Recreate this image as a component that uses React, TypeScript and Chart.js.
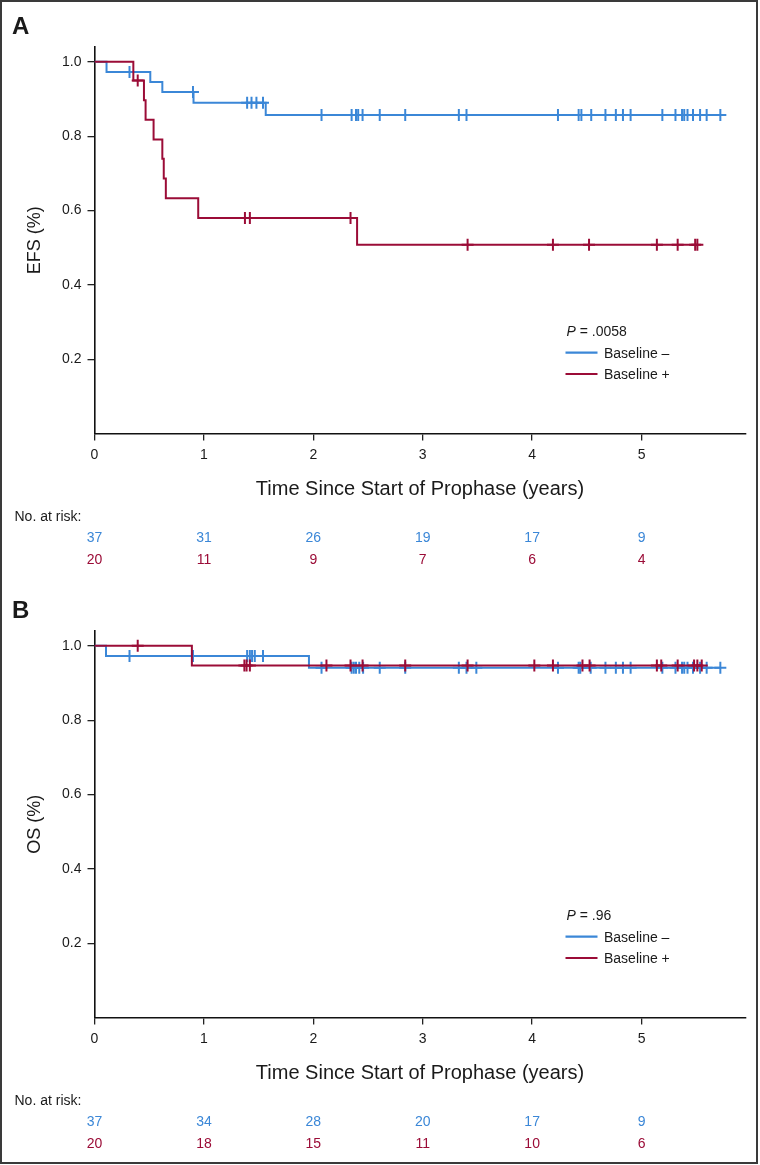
import React, { useEffect, useRef } from "react";
import { Chart, registerables } from "chart.js";

Chart.register(...registerables);

const FONT = "'Liberation Sans', Arial, Helvetica, sans-serif";
const BLUE = "#3b87d7";
const RED = "#9b0c37";
const INK = "#1a1a1a";

// ---------- shared axis data ----------
const xTickValues = [0, 1, 2, 3, 4, 5];
const yTickValues = [0.2, 0.4, 0.6, 0.8, 1.0];
const riskTimes = [0, 1, 2, 3, 4, 5];
const xTitle = "Time Since Start of Prophase (years)";
const seriesLabels = ["Baseline –", "Baseline +"];

// ---------- Panel A: EFS ----------
const efsNegTimes = [0, 0.11, 0.51, 0.62, 0.905, 1.565, 5.72];
const efsNegSurv = [1, 0.973, 0.946, 0.919, 0.89, 0.857, 0.857];
const efsNegCensor = [
  0.32, 0.9, 1.395, 1.435, 1.48, 1.54, 2.075, 2.35, 2.39, 2.41, 2.45, 2.607, 2.84,
  3.33, 3.4, 4.236, 4.425, 4.45, 4.54, 4.67, 4.765, 4.83, 4.9, 5.19, 5.31, 5.37,
  5.39, 5.42, 5.47, 5.535, 5.595, 5.72,
];
const efsPosTimes = [0, 0.355, 0.452, 0.467, 0.54, 0.62, 0.633, 0.652, 0.948, 2.4, 5.51];
const efsPosSurv = [1, 0.95, 0.897, 0.844, 0.791, 0.739, 0.686, 0.633, 0.58, 0.508, 0.508];
const efsPosCensor = [0.395, 1.375, 1.42, 2.34, 3.41, 4.19, 4.52, 5.14, 5.33, 5.49, 5.51];
const efsRiskNeg = [37, 31, 26, 19, 17, 9];
const efsRiskPos = [20, 11, 9, 7, 6, 4];
const efsP = ".0058";
const efsYTitle = "EFS (%)";

// ---------- Panel B: OS ----------
const osNegTimes = [0, 0.105, 1.96, 5.72];
const osNegSurv = [1, 0.973, 0.941, 0.941];
const osNegCensor = [
  0.32, 0.9, 1.395, 1.42, 1.44, 1.465, 1.54, 2.075, 2.35, 2.37, 2.39, 2.42, 2.455,
  2.607, 2.84, 3.33, 3.4, 3.49, 4.236, 4.425, 4.44, 4.535, 4.67, 4.765, 4.83, 4.9,
  5.19, 5.31, 5.37, 5.39, 5.42, 5.47, 5.535, 5.595, 5.72,
];
const osPosTimes = [0, 0.89, 5.55];
const osPosSurv = [1, 0.947, 0.947];
const osPosCensor = [
  0.395, 1.37, 1.39, 1.42, 2.12, 2.34, 2.45, 2.84, 3.41, 4.02, 4.19, 4.46, 4.525,
  5.14, 5.18, 5.33, 5.48, 5.51, 5.55,
];
const osRiskNeg = [37, 34, 28, 20, 17, 9];
const osRiskPos = [20, 18, 15, 11, 10, 6];
const osP = ".96";
const osYTitle = "OS (%)";

// ---------- layout (pixels inside each panel canvas) ----------
const L = {
  areaLeft: 94.5,
  areaTop: 47,
  areaBottom: 433.5,
  padRight: 14.5,
  letterX: 12,
  letterY: 34,
  yTitleX: 39.5,
  xTitleY: 495,
  riskLabelX: 14.5,
  riskLabelY: 521,
  riskRow1Y: 542,
  riskRow2Y: 563.5,
  legX: 565.5,
  legLineLen: 32,
  legTextX: 604,
  legPY: 336,
  legRow1Y: 352.7,
  legRow2Y: 374,
};

function stepValue(times: number[], surv: number[], t: number) {
  let v = surv[0];
  for (let i = 0; i < times.length; i++) {
    if (times[i] <= t) v = surv[i];
  }
  return v;
}

const decorPlugin = {
  id: "kmDecor",
  afterDraw(chart: any, _args: any, opts: any) {
    const ctx = chart.ctx as CanvasRenderingContext2D;
    const { left, right, top, bottom } = chart.chartArea;
    const xs = chart.scales.x;
    ctx.save();
    ctx.fillStyle = INK;
    ctx.textBaseline = "alphabetic";

    // panel letter
    ctx.font = `bold 24px ${FONT}`;
    ctx.textAlign = "left";
    ctx.fillText(opts.letter, L.letterX, L.letterY);

    // y title
    ctx.save();
    ctx.translate(L.yTitleX, (top + bottom) / 2);
    ctx.rotate(-Math.PI / 2);
    ctx.font = `18px ${FONT}`;
    ctx.textAlign = "center";
    ctx.fillText(opts.yTitle, 0, 0);
    ctx.restore();

    // x title
    ctx.font = `20px ${FONT}`;
    ctx.textAlign = "center";
    ctx.fillText(xTitle, (left + right) / 2, L.xTitleY);

    // number at risk
    ctx.font = `14px ${FONT}`;
    ctx.textAlign = "left";
    ctx.fillText("No. at risk:", L.riskLabelX, L.riskLabelY);
    ctx.textAlign = "center";
    riskTimes.forEach((t, i) => {
      const px = xs.getPixelForValue(t);
      ctx.fillStyle = BLUE;
      ctx.fillText(String(opts.riskNeg[i]), px, L.riskRow1Y);
      ctx.fillStyle = RED;
      ctx.fillText(String(opts.riskPos[i]), px, L.riskRow2Y);
    });

    // legend
    ctx.fillStyle = INK;
    ctx.textAlign = "left";
    ctx.font = `italic 14px ${FONT}`;
    ctx.fillText("P", L.legX + 1, L.legPY);
    const pw = ctx.measureText("P").width;
    ctx.font = `14px ${FONT}`;
    ctx.fillText(" = " + opts.p, L.legX + 1 + pw, L.legPY);

    const rows = [
      { y: L.legRow1Y, c: BLUE, t: seriesLabels[0] },
      { y: L.legRow2Y, c: RED, t: seriesLabels[1] },
    ];
    rows.forEach((r) => {
      ctx.strokeStyle = r.c;
      ctx.lineWidth = 2.2;
      ctx.beginPath();
      ctx.moveTo(L.legX, r.y);
      ctx.lineTo(L.legX + L.legLineLen, r.y);
      ctx.stroke();
      ctx.fillStyle = INK;
      ctx.fillText(r.t, L.legTextX, r.y + 5);
    });
    ctx.restore();
  },
};

function makeConfig(
  negT: number[], negS: number[], negC: number[],
  posT: number[], posS: number[], posC: number[],
  canvasH: number, decor: any
): any {
  const line = (t: number[], s: number[], color: string) => ({
    data: t.map((x, i) => ({ x, y: s[i] })),
    showLine: true,
    stepped: "before",
    borderColor: color,
    backgroundColor: color,
    borderWidth: 2,
    pointRadius: 0,
    fill: false,
  });
  const cens = (c: number[], t: number[], s: number[], color: string) => ({
    data: c.map((x) => ({ x, y: stepValue(t, s, x) })),
    showLine: false,
    pointStyle: "cross",
    pointRadius: 6,
    pointBorderWidth: 2,
    borderColor: color,
    backgroundColor: color,
  });
  return {
    type: "scatter",
    data: {
      datasets: [
        line(posT, posS, RED),
        cens(posC, posT, posS, RED),
        line(negT, negS, BLUE),
        cens(negC, negT, negS, BLUE),
      ],
    },
    options: {
      responsive: false,
      animation: false,
      events: [],
      layout: { padding: { top: L.areaTop, right: L.padRight, left: 0, bottom: 0 } },
      plugins: {
        legend: { display: false },
        tooltip: { enabled: false },
        kmDecor: decor,
      },
      scales: {
        x: {
          type: "linear",
          min: 0,
          max: 5.95,
          afterBuildTicks: (s: any) => {
            s.ticks = xTickValues.map((v) => ({ value: v }));
          },
          afterFit: (s: any) => {
            s.height = canvasH - L.areaBottom;
          },
          ticks: {
            color: INK,
            font: { size: 14, family: FONT },
            padding: 6,
            maxRotation: 0,
            callback: (v: number) => String(v),
          },
          grid: {
            display: true,
            drawOnChartArea: false,
            drawTicks: true,
            tickLength: 7,
            color: "#222",
            lineWidth: 1.3,
          },
          border: { display: true, color: "#111", width: 1.6 },
        },
        y: {
          type: "linear",
          min: 0,
          max: 1.04,
          afterBuildTicks: (s: any) => {
            s.ticks = yTickValues.map((v) => ({ value: v }));
          },
          afterFit: (s: any) => {
            s.width = L.areaLeft;
          },
          ticks: {
            color: INK,
            font: { size: 14, family: FONT },
            padding: 6,
            callback: (v: number) => v.toFixed(1),
          },
          grid: {
            display: true,
            drawOnChartArea: false,
            drawTicks: true,
            tickLength: 7,
            color: "#222",
            lineWidth: 1.3,
          },
          border: { display: true, color: "#111", width: 1.6 },
        },
      },
    },
    plugins: [decorPlugin],
  };
}

const H_A = 584;
const H_B = 581;

export default function App() {
  const refA = useRef<HTMLCanvasElement | null>(null);
  const refB = useRef<HTMLCanvasElement | null>(null);

  useEffect(() => {
    Chart.defaults.font.family = FONT;
    Chart.defaults.color = INK;
    const a = new Chart(
      refA.current as HTMLCanvasElement,
      makeConfig(efsNegTimes, efsNegSurv, efsNegCensor, efsPosTimes, efsPosSurv, efsPosCensor, H_A, {
        letter: "A",
        yTitle: efsYTitle,
        p: efsP,
        riskNeg: efsRiskNeg,
        riskPos: efsRiskPos,
      })
    );
    const b = new Chart(
      refB.current as HTMLCanvasElement,
      makeConfig(osNegTimes, osNegSurv, osNegCensor, osPosTimes, osPosSurv, osPosCensor, H_B, {
        letter: "B",
        yTitle: osYTitle,
        p: osP,
        riskNeg: osRiskNeg,
        riskPos: osRiskPos,
      })
    );
    return () => {
      a.destroy();
      b.destroy();
    };
  }, []);

  return (
    <div
      style={{
        position: "absolute",
        left: 0,
        top: 0,
        width: 760,
        height: 1165,
        overflow: "hidden",
        background: "#fff",
      }}
    >
      <canvas
        ref={refA}
        width={760}
        height={H_A}
        style={{ position: "absolute", left: 0, top: 0, width: 760, height: H_A }}
      />
      <canvas
        ref={refB}
        width={760}
        height={H_B}
        style={{ position: "absolute", left: 0, top: H_A, width: 760, height: H_B }}
      />
      <div
        style={{
          position: "absolute",
          left: 0,
          top: 0,
          width: 758,
          height: 1164,
          boxSizing: "border-box",
          border: "2px solid #3a3a3a",
          pointerEvents: "none",
        }}
      />
    </div>
  );
}
